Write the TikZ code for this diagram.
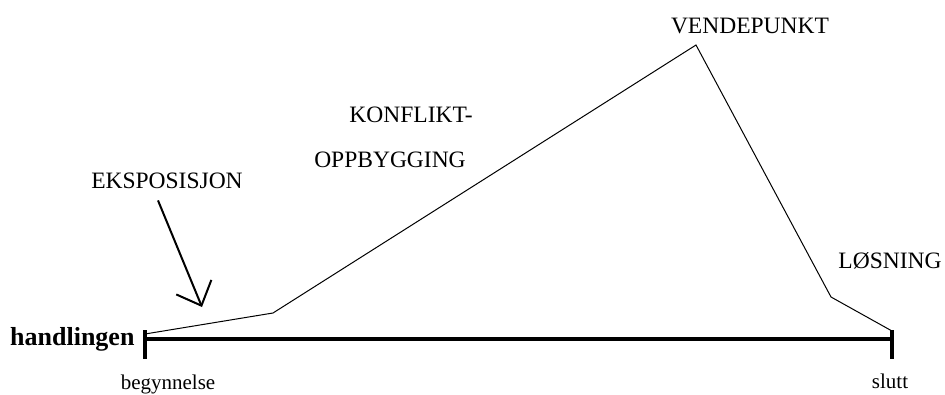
\documentclass[tikz,border=0pt]{standalone}
\usepackage{fontspec}
\setmainfont{Liberation Serif}
\usetikzlibrary{arrows.meta}
\tikzset{
  phaselabel/.style={
    font=\fontsize{23.5}{27}\selectfont,
    inner sep=0pt, anchor=base
  },
  axislabel/.style={
    font=\fontsize{21}{25}\selectfont,
    inner sep=0pt, anchor=base
  },
  plotline/.style={line width=1pt},
  axisline/.style={line width=4pt},
  pointer/.style={
    line width=2pt, -{Straight Barb[length=20pt, width=38pt]}
  },
}
\begin{document}
\begin{tikzpicture}[x=1pt, y=-1pt]
  \useasboundingbox (0,0) rectangle (945,394);

  % Phase labels
  \node[phaselabel] (ekspo)  at (167,188) {EKSPOSISJON};
  \node[phaselabel] (konfl)  at (411,122) {KONFLIKT-};
  \node[phaselabel] (oppbyg) at (390,167) {OPPBYGGING};
  \node[phaselabel] (vende)  at (750,33)  {VENDEPUNKT};
  \node[phaselabel] (losn)   at (890,268) {LØSNING};

  % Axis labels
  \node[axislabel, font=\bfseries\fontsize{26}{30}\selectfont, anchor=base west]
    (handl) at (10,345) {handlingen};
  \node[axislabel] (begyn) at (168,389) {begynnelse};
  \node[axislabel] (slutt) at (890,388) {slutt};

  % Plot points
  \coordinate (start) at (145,334);
  \coordinate (rise)  at (273,313);
  \coordinate (peak)  at (696,45);
  \coordinate (knee)  at (831,297);
  \coordinate (stop)  at (892,331);
  \coordinate (axl)   at (145,339);
  \coordinate (axr)   at (892,339);
  \coordinate (exptip) at (202,307);

  % Time axis with end ticks
  \draw[axisline] (axl) -- (axr);
  \foreach \p in {axl, axr}
    \draw[axisline] ([yshift=9pt]\p) -- ([yshift=-20pt]\p);

  % Plot line
  \draw[plotline] (start) -- (rise) -- (peak) -- (knee) -- (stop);

  % Exposition pointer
  \draw[pointer] ([xshift=-9pt, yshift=-12pt]ekspo.south) -- (exptip);
\end{tikzpicture}
\end{document}
